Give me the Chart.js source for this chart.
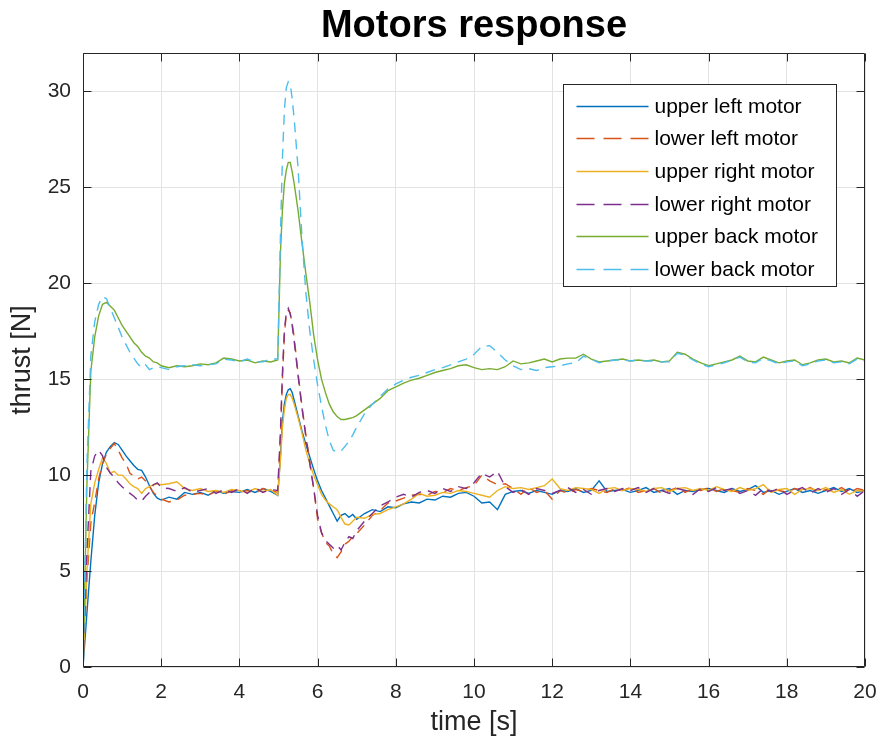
<!DOCTYPE html>
<html>
<head>
<meta charset="utf-8">
<title>Motors response</title>
<script src="https://cdn.jsdelivr.net/npm/chart.js@4.4.1/dist/chart.umd.min.js"></script>
<style>
  html, body { margin: 0; padding: 0; background: #fff; }
  #wrap { width: 880px; height: 742px; }
</style>
</head>
<body>
<div id="wrap"><canvas id="chart" width="880" height="742"></canvas></div>
<script>
// time stamps [s]
const time = [
  0, 0.1, 0.2, 0.3, 0.4, 0.5, 0.6, 0.7, 0.8, 0.9, 1.0, 1.1, 1.2, 1.3, 1.4, 1.5, 1.6, 1.7, 1.8, 1.9, 2.0,
  2.2, 2.4, 2.6, 2.8, 3.0, 3.2, 3.4, 3.6, 3.8, 4.0, 4.2, 4.4, 4.6, 4.8, 4.98,
  5.05, 5.1, 5.15, 5.2, 5.25, 5.3, 5.35, 5.4, 5.5, 5.6, 5.7, 5.8, 5.9, 6.0,
  6.1, 6.2, 6.3, 6.4, 6.5, 6.6, 6.7, 6.8, 6.9, 7.0, 7.2, 7.4, 7.6, 7.8, 8.0,
  8.2, 8.4, 8.6, 8.8, 9.0, 9.2, 9.4, 9.6, 9.8, 10.0, 10.2, 10.4, 10.6, 10.8, 11.0,
  11.2, 11.4, 11.6, 11.8, 12.0, 12.2, 12.4, 12.6, 12.8, 13.0, 13.2, 13.4, 13.6, 13.8, 14.0,
  14.2, 14.4, 14.6, 14.8, 15.0, 15.2, 15.4, 15.6, 15.8, 16.0, 16.2, 16.4, 16.6, 16.8, 17.0,
  17.2, 17.4, 17.6, 17.8, 18.0, 18.2, 18.4, 18.6, 18.8, 19.0, 19.2, 19.4, 19.6, 19.8, 20.0
];

// thrust [N] per motor
const upperLeft = [
  0, 2.8, 5.5, 7.9, 9.6, 10.6, 11.2, 11.5, 11.7, 11.6, 11.3, 11.0, 10.75, 10.5, 10.3, 10.25, 9.9, 9.45, 9.05, 8.8, 8.7,
  8.85, 8.75, 9.1, 9.0, 9.1, 8.95, 9.2, 9.05, 9.15, 9.1, 9.25, 9.1, 9.3, 9.15, 8.95,
  11.0, 12.8, 13.7, 14.2, 14.45, 14.5, 14.3, 13.9, 13.1, 12.3, 11.6, 10.95, 10.3, 9.7,
  9.2, 8.8, 8.4, 8.0, 7.6, 7.9, 8.0, 7.8, 7.95, 7.7, 8.0, 8.2, 8.1, 8.35, 8.3,
  8.5, 8.6, 8.55, 8.75, 8.7, 8.9, 8.85, 9.05, 9.1, 8.9, 8.55, 8.6, 8.2, 9.0, 9.15,
  9.2, 9.05, 9.2, 9.1, 9.0, 9.2, 9.15, 9.3, 9.1, 9.2, 9.7, 9.15, 9.2, 9.25, 9.1,
  9.2, 9.35, 9.1, 9.2, 9.3, 9.0, 9.2, 9.15, 9.25, 9.3, 9.2, 9.1, 9.3, 9.15, 9.25,
  9.45, 9.1, 9.2, 9.0, 9.15, 9.3, 9.1, 9.2, 9.05, 9.2, 9.35, 9.15, 9.3, 9.1, 9.2
];
const lowerLeft = [
  0, 4.5, 7.5, 8.6, 9.8, 10.6, 11.1, 11.4, 11.65, 11.3, 10.9, 10.6, 10.1, 9.95, 9.8, 9.9, 9.7, 9.4, 9.1, 8.9, 8.75,
  8.6, 8.7, 8.95, 9.0, 9.05, 8.95, 9.15, 9.0, 9.2, 9.1, 9.2, 9.05, 9.3, 9.2, 9.1,
  12.0, 15.0, 17.3, 18.4, 18.6, 18.45, 17.9, 17.2, 15.3, 13.6, 12.1, 10.7, 9.3, 7.7,
  7.0, 6.5, 6.3, 5.9, 5.7, 6.0, 6.4, 6.55, 6.8, 6.95, 7.4, 7.9, 8.15, 8.55, 8.65,
  8.8, 8.95, 9.0, 8.95, 9.15, 9.1, 9.3, 9.2, 9.35, 9.45, 10.0, 9.7, 9.5, 9.55, 9.3,
  9.0, 9.35, 9.1, 9.2, 8.75, 9.2, 9.05, 9.25, 9.15, 9.3, 9.2, 9.1, 9.3, 9.2, 9.35,
  9.1, 9.2, 9.3, 9.05, 9.2, 9.35, 9.1, 9.3, 9.2, 9.35, 9.15, 9.3, 9.2, 9.1, 9.3,
  9.2, 9.0, 9.35, 9.2, 9.1, 9.3, 9.2, 9.35, 9.1, 9.25, 9.15, 9.35, 9.1, 9.3, 9.2
];
const upperRight = [
  0, 5.0, 8.5, 9.6, 10.3, 10.9, 10.6, 10.1, 10.2, 10.0, 10.0, 9.8, 9.55, 9.4, 9.3, 9.05, 9.3, 9.4, 9.5, 9.55, 9.5,
  9.55, 9.65, 9.3, 9.2, 9.3, 9.15, 9.2, 9.1, 9.25, 9.2, 9.1, 9.3, 9.15, 9.25, 8.95,
  10.8, 12.5, 13.4, 14.0, 14.2, 14.2, 14.0, 13.7, 13.0, 12.2, 11.3, 10.6, 10.0, 9.5,
  9.0, 8.7, 8.5, 8.35, 8.2, 7.8, 7.45, 7.4, 7.6, 7.8, 7.75, 7.95, 8.0, 8.2, 8.35,
  8.5, 8.75, 9.05, 8.9, 8.95, 9.1, 9.05, 9.2, 9.15, 9.05, 8.95, 8.85, 9.2, 9.4, 9.3,
  9.35, 9.25, 9.35, 9.45, 9.8, 9.3, 9.2, 9.35, 9.3, 9.25, 9.05, 9.3, 9.35, 9.2, 9.3,
  9.25, 9.15, 9.3, 9.35, 9.15, 9.3, 9.35, 9.2, 9.3, 9.2, 9.4, 9.25, 9.15, 9.35, 9.2,
  9.3, 9.5, 9.1, 9.25, 9.3, 9.0, 9.25, 9.3, 9.2, 9.35, 9.1, 9.25, 9.0, 9.2, 9.15
];
const lowerRight = [
  0, 6.0, 10.2, 11.0, 11.3, 11.0, 10.4, 10.1, 9.9, 9.6, 9.4, 9.2, 9.05, 8.9, 8.7, 8.65, 8.9, 9.1, 9.5, 9.6, 9.35,
  9.3, 9.15, 9.35, 9.1, 9.2, 9.3, 9.05, 9.25, 9.1, 9.3, 9.05, 9.35, 9.1, 9.25, 9.2,
  12.3, 15.3, 17.5, 18.5, 18.7, 18.4, 17.8, 17.0, 15.2, 13.5, 12.0, 10.6, 9.3, 7.9,
  7.0, 6.6, 6.4, 6.2, 6.35, 6.1, 6.5, 6.8, 6.7, 7.1, 7.6, 8.0, 8.4, 8.6, 8.85,
  9.0, 8.85, 9.1, 9.2, 9.05, 9.3, 9.15, 9.4, 9.3, 9.6, 10.1, 9.9, 10.2, 9.4, 9.1,
  9.25, 9.0, 9.3, 9.2, 9.05, 9.2, 9.35, 9.1, 9.25, 9.0, 9.2, 9.3, 9.15, 9.3, 9.2,
  9.35, 9.1, 9.3, 9.2, 9.05, 9.3, 9.2, 9.0, 9.3, 9.15, 9.35, 9.2, 9.3, 9.05, 9.2,
  8.95, 9.3, 9.15, 9.3, 9.0, 9.2, 9.35, 9.05, 9.3, 9.1, 9.3, 9.0, 9.25, 8.9, 9.2
];
const upperBack = [
  0, 9.5, 15.4, 17.2, 18.3, 18.9, 19.0, 18.8, 18.6, 18.2, 17.8, 17.5, 17.2, 16.9, 16.7, 16.4, 16.2, 16.1, 15.9, 15.85, 15.7,
  15.6, 15.7, 15.65, 15.7, 15.8, 15.75, 15.85, 16.1, 16.05, 15.95, 16.0, 15.85, 15.95, 15.9, 16.0,
  21.6, 23.8, 25.2, 25.9, 26.3, 26.3, 25.8, 25.2, 23.8, 22.1, 20.5, 19.0, 17.3, 16.0,
  15.0, 14.3, 13.7, 13.3, 13.05, 12.9, 12.9, 12.95, 13.0, 13.1, 13.4, 13.7, 14.0, 14.4, 14.6,
  14.8, 14.95, 15.05, 15.2, 15.35, 15.45, 15.55, 15.7, 15.75, 15.6, 15.5, 15.55, 15.5, 15.65, 15.95,
  15.8, 15.85, 15.95, 16.05, 15.9, 16.05, 16.1, 16.1, 16.3, 16.05, 15.9, 15.95, 16.0, 16.05, 15.95,
  16.0, 15.95, 16.0, 15.9, 15.95, 16.4, 16.3, 16.05, 15.85, 15.7, 15.8, 15.9, 16.0, 16.2, 15.95,
  15.9, 16.15, 16.0, 15.85, 15.95, 16.0, 15.75, 15.85, 16.0, 16.05, 15.9, 15.95, 15.85, 16.1, 16.0
];
const lowerBack = [
  0, 10.5, 16.2, 18.0, 18.9, 19.3, 19.2, 18.7, 18.2, 17.7, 17.2, 16.8, 16.4, 16.1, 15.8, 15.6, 15.75, 15.5, 15.6, 15.65, 15.6,
  15.5, 15.65, 15.7, 15.75, 15.7, 15.75, 15.8, 16.05, 16.0, 15.9, 16.05, 15.9, 15.9, 16.05, 16.05,
  22.5, 26.5, 29.0, 30.2, 30.5, 30.4, 29.6, 28.6, 26.0, 22.4, 19.5, 17.5, 16.0, 14.7,
  13.6, 12.6, 11.8, 11.3, 11.2, 11.25, 11.5, 11.75, 12.1, 12.5, 13.2, 13.7, 14.1, 14.5, 14.75,
  14.95, 15.1, 15.2, 15.35, 15.5, 15.6, 15.75, 15.9, 16.05, 16.3, 16.7, 16.75, 16.4, 16.0, 15.7,
  15.5, 15.55, 15.45, 15.6, 15.65, 15.7, 15.8, 15.85, 16.2, 16.05, 15.85, 15.95, 16.0, 16.0, 15.95,
  16.0, 15.95, 15.95, 15.9, 15.9, 16.35, 16.25, 16.0, 15.8, 15.65, 15.75, 15.85, 16.0, 16.15, 15.9,
  15.85, 16.1, 15.95, 15.8, 15.9, 15.95, 15.7, 15.8, 15.95, 16.0, 15.85, 15.9, 15.8, 16.05, 15.95
];

const seriesNames = ["upper left motor", "lower left motor", "upper right motor",
                     "lower right motor", "upper back motor", "lower back motor"];
const seriesValues = [upperLeft, lowerLeft, upperRight, lowerRight, upperBack, lowerBack];
const seriesColors = ["#0072BD", "#D95319", "#EDB120", "#7E2F8E", "#77AC30", "#4DBEEE"];
const seriesDashed = [false, true, false, true, false, true];

const xTicks = [0, 2, 4, 6, 8, 10, 12, 14, 16, 18, 20];
const yTicks = [0, 5, 10, 15, 20, 25, 30];

const FONT = '"Liberation Sans", Arial, Helvetica, sans-serif';
const INK = "#262626";
const DASH = [10, 7];
const LEGEND_DASH = [18, 9];

// MATLAB-like box with inward ticks, plus the legend drawn inside the axes
const framePlugin = {
  id: "frame",
  afterDraw(chart) {
    const { ctx, chartArea: a, scales: { x, y } } = chart;
    const L = Math.round(a.left) + 0.5, R = Math.round(a.right) - 0.5;
    const T = Math.round(a.top) + 0.5, B = Math.round(a.bottom) - 0.5;
    const tl = 8;
    ctx.save();
    ctx.strokeStyle = INK; ctx.lineWidth = 1;
    ctx.beginPath();
    ctx.rect(L, T, R - L, B - T);
    xTicks.forEach(v => {
      const px = Math.round(x.getPixelForValue(v)) + 0.5;
      ctx.moveTo(px, B); ctx.lineTo(px, B - tl);
      ctx.moveTo(px, T); ctx.lineTo(px, T + tl);
    });
    yTicks.forEach(v => {
      const py = Math.round(y.getPixelForValue(v)) + 0.5;
      ctx.moveTo(L, py); ctx.lineTo(L + tl, py);
      ctx.moveTo(R, py); ctx.lineTo(R - tl, py);
    });
    ctx.stroke();

    // legend
    const bx = Math.round(a.right) - 302 + 0.5, by = Math.round(a.top) + 31 + 0.5;
    const bw = 273, bh = 202, rowH = 32.7;
    ctx.fillStyle = "#fff";
    ctx.fillRect(bx, by, bw, bh);
    ctx.strokeStyle = INK;
    ctx.strokeRect(bx, by, bw, bh);
    ctx.font = `21px ${FONT}`;
    ctx.textBaseline = "middle";
    ctx.textAlign = "left";
    seriesNames.forEach((name, i) => {
      const ry = Math.round(by + 21 + i * rowH) + 0.5;
      ctx.strokeStyle = seriesColors[i];
      ctx.lineWidth = 1.3;
      ctx.setLineDash(seriesDashed[i] ? LEGEND_DASH : []);
      ctx.beginPath();
      ctx.moveTo(bx + 13, ry); ctx.lineTo(bx + 85, ry);
      ctx.stroke();
      ctx.setLineDash([]);
      ctx.fillStyle = "#000";
      ctx.fillText(name, bx + 91, ry + 1);
    });
    ctx.restore();
  }
};

const datasets = seriesNames.map((name, i) => ({
  label: name,
  data: time.map((t, k) => ({ x: t, y: seriesValues[i][k] })),
  borderColor: seriesColors[i],
  backgroundColor: seriesColors[i],
  borderWidth: 1.4,
  borderDash: seriesDashed[i] ? DASH : [],
  pointRadius: 0,
  tension: 0,
  fill: false,
  order: seriesNames.length - i
}));

new Chart(document.getElementById("chart"), {
  type: "line",
  data: { datasets },
  options: {
    responsive: false,
    animation: false,
    devicePixelRatio: 1,
    layout: { padding: { left: 0, right: 15, top: 0, bottom: 0 } },
    plugins: {
      legend: { display: false },
      tooltip: { enabled: false },
      title: {
        display: true,
        fullSize: false,
        text: "Motors response",
        color: "#000",
        font: { family: FONT, size: 38, weight: "bold", lineHeight: 1.2 },
        padding: { top: 4, bottom: 3.4 }
      }
    },
    scales: {
      x: {
        type: "linear",
        min: 0, max: 20,
        afterFit: (s) => { s.height = 75; s.paddingLeft = 0; s.paddingRight = 0; },
        afterBuildTicks: (s) => { s.ticks = xTicks.map(v => ({ value: v })); },
        grid: { color: "#e3e3e3", lineWidth: 1, drawTicks: false },
        border: { display: false },
        ticks: { color: INK, padding: 13, maxRotation: 0, font: { family: FONT, size: 21 } },
        title: { display: true, text: "time [s]", color: INK, padding: { top: 3, bottom: 3 },
                 font: { family: FONT, size: 27 } }
      },
      y: {
        type: "linear",
        min: 0, max: 32,
        afterFit: (s) => { s.width = 83; s.paddingTop = 0; s.paddingBottom = 0; },
        afterBuildTicks: (s) => { s.ticks = yTicks.map(v => ({ value: v })); },
        grid: { color: "#e3e3e3", lineWidth: 1, drawTicks: false },
        border: { display: false },
        ticks: { color: INK, padding: 12, font: { family: FONT, size: 21 } },
        title: { display: true, text: "thrust [N]", color: INK, padding: { top: 6, bottom: 6 },
                 font: { family: FONT, size: 27 } }
      }
    }
  },
  plugins: [framePlugin]
});
</script>
</body>
</html>
